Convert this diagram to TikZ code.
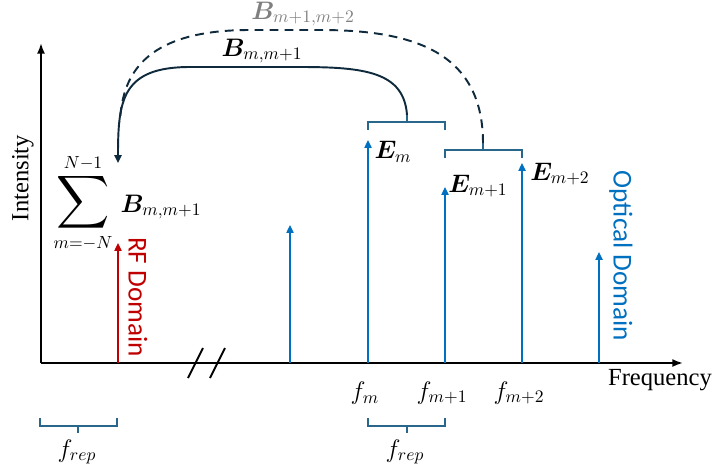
\documentclass[tikz,border=0pt]{standalone}
\usepackage{fontspec}
\setmainfont{Liberation Serif}
\newfontfamily\calib{Carlito}
\usepackage{amsmath}
\usepackage{amssymb}
\usepackage{bm}
\usepackage{graphicx}
\usetikzlibrary{calc, positioning}
\usetikzlibrary{arrows.meta}
\definecolor{optblue}{RGB}{0,112,192}
\definecolor{rfred}{RGB}{192,0,0}
\definecolor{brkblue}{RGB}{40,102,140}
\definecolor{curvenavy}{RGB}{14,42,60}
\tikzset{
  spec/.style={-{Triangle[length=4.5pt,width=4pt]},line width=1.1pt,optblue},
  brk/.style={line width=1.1pt,brkblue},
  lbl/.style={font=\fontsize{14}{16}\selectfont,inner sep=0pt},
  mlbl/.style={font=\fontsize{14.5}{17}\selectfont,inner sep=0pt},
  domlbl/.style={font=\calib\fontsize{15.5}{18}\selectfont,inner sep=0pt,rotate=-90},
}

\begin{document}
\begin{tikzpicture}[x=0.02cm,y=-0.02cm]
\useasboundingbox (0,0) rectangle (714,474);
\coordinate (O) at (41,363);
\coordinate (Ytop) at (41,43);
\coordinate (Xend) at (683,363);
\draw[-{Latex[length=6pt,width=4.5pt]},line width=1.1pt] (O) -- (Ytop);
\draw[-{Latex[length=6pt,width=4.5pt]},line width=1.1pt] (O) -- (Xend);
\node[lbl,rotate=90] (ylab) at (23,178) {Intensity};
\node[lbl] (xlab) at (660,380) {Frequency};
\draw[line width=1.1pt] (188,378) -- (203,348);
\draw[line width=1.1pt] (210,378) -- (225,348);
\coordinate (rfb) at (118,363);
\coordinate (rft) at (118,243);
\draw[spec,rfred] (rfb) -- (rft);
\node[domlbl,rfred] (rflab) at (138,297) {RF Domain};
\foreach \n/\x/\t in {a/290/225, m/368/140, p/445/187, q/522/163, z/599/252} {
  \coordinate (b\n) at (\x,363);
  \coordinate (t\n) at (\x,\t);
  \draw[spec] (b\n) -- (t\n);
}
\node[domlbl,optblue] (optlab) at (621,256) {Optical Domain};
\node[lbl] (fm) at (365,393) {$f_m$};
\node[lbl] (fp) at (442,393) {$f_{m+1}$};
\node[lbl] (fq) at (519,393) {$f_{m+2}$};
\node[mlbl] (Em) at (393,152) {$\bm{E}_m$};
\node[mlbl] (Ep) at (478,186) {$\bm{E}_{m+1}$};
\node[mlbl] (Eq) at (560,174) {$\bm{E}_{m+2}$};
\draw[brk] (368,130) -- (368,122) -- (445,122) -- (445,130);
\draw[brk] (407,122) -- (407,115) coordinate (k1);
\draw[brk] (445,158) -- (445,150) -- (522,150) -- (522,158);
\draw[brk] (483,150) -- (483,143) coordinate (k2);
\draw[brk] (368,418) -- (368,426) -- (445,426) -- (445,418);
\draw[brk] (407,426) -- (407,433) coordinate (r2);
\draw[brk] (40,418) -- (40,426) -- (117,426) -- (117,418);
\draw[brk] (78,426) -- (78,433) coordinate (r1);
\node[lbl] (rep1) at (77,452) {$f_{rep}$};
\node[lbl] (rep2) at (405,452) {$f_{rep}$};
\coordinate (sumtip) at (118,163);
\coordinate (join) at (120,122);
\draw[curvenavy,line width=1.1pt,-{Triangle[length=4.5pt,width=4pt]}] (k1) .. controls (404,72) and (365,67) .. (300,67) -- (190,67) .. controls (122,67) and (118,100) .. (sumtip);
\draw[curvenavy,line width=1.1pt,dashed,dash pattern=on 5pt off 3.5pt] (k2) .. controls (483,50) and (410,30) .. (320,30) -- (250,30) .. controls (150,30) and (122,70) .. (join);
\node[mlbl] (Bm) at (262,51) {$\bm{B}_{m,m+1}$};
\node[mlbl,gray] (Bp) at (303,14) {$\bm{B}_{m+1,m+2}$};
\node[inner sep=0pt,font=\fontsize{14}{17}\selectfont] (sum) at (83,203) {$\displaystyle\mathop{\vcenter{\hbox{\scalebox{1.5}{$\displaystyle\sum$}}}}\limits_{m=-N}^{N-1}$};
\node[mlbl] (Bsum) at (161,207) {$\bm{B}_{m,m+1}$};
\end{tikzpicture}
\end{document}
